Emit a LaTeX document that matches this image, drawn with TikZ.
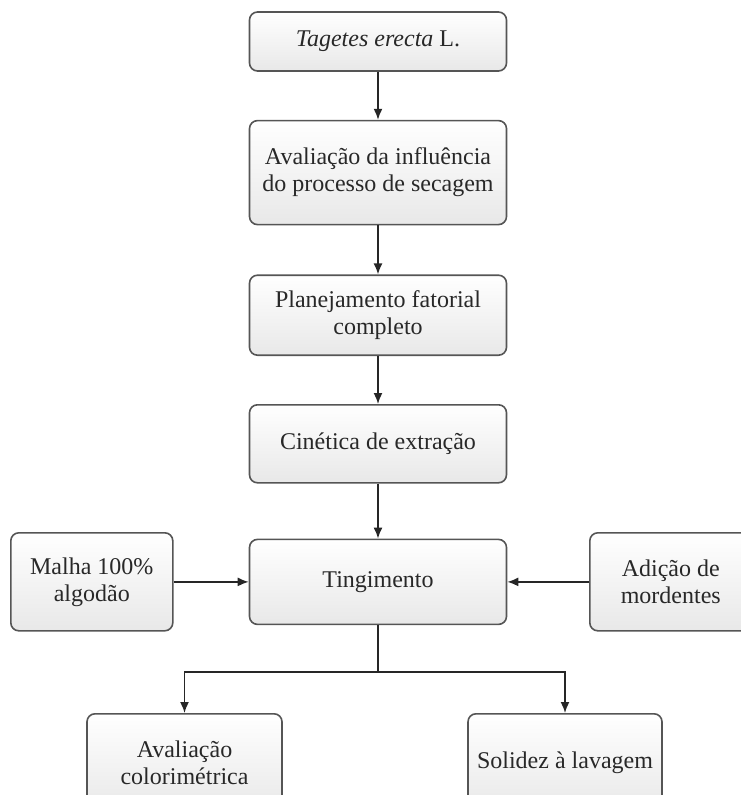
\documentclass[tikz,border=0pt]{standalone}
\usepackage{fontspec}
\setmainfont{Liberation Serif}
\usetikzlibrary{positioning,arrows.meta}
\definecolor{borda}{RGB}{85,85,85}
\definecolor{texto}{RGB}{40,40,40}
\definecolor{fundo}{RGB}{232,232,232}

\begin{document}
\begin{tikzpicture}[x=1pt, y=-1pt, node distance=48pt]
\tikzstyle{etapa} = [rectangle, rounded corners=8pt, minimum width=257pt, align=center, draw=borda, line width=1.6pt, top color=white, bottom color=fundo, text=texto, font=\fontsize{24}{27}\selectfont]
\tikzstyle{seta} = [line width=1.6pt, draw=black!85, -{Latex[length=11pt,width=9pt]}]

\useasboundingbox (0,0) rectangle (741,795);
\clip (0,0) rectangle (741,795);

\node (Tagetes) [etapa, minimum height=59pt] at (378,41.5) {\textit{Tagetes erecta} L.};
\node (Secagem) [etapa, minimum height=104pt, below=48pt of Tagetes] {Avaliação da influência\\do processo de secagem};
\node (Planejamento) [etapa, minimum height=80pt, below=49pt of Secagem] {Planejamento fatorial\\completo};
\node (Cinetica) [etapa, minimum height=78pt, below=48pt of Planejamento] {Cinética de extração};
\node (Tingimento) [etapa, minimum height=85pt, below=55pt of Cinetica] {Tingimento};

\draw [seta] (Tagetes) -- (Secagem);
\draw [seta] (Secagem) -- (Planejamento);
\draw [seta] (Planejamento) -- (Cinetica);
\draw [seta] (Cinetica) -- (Tingimento);

% entradas laterais
\node (Malha) [etapa, minimum width=162pt, minimum height=98pt, anchor=north west] at (10,532) {Malha 100\%\\algodão};
\node (Mordentes) [etapa, minimum width=162pt, minimum height=98pt, anchor=north west] at (589,532) {Adição de\\mordentes};
\draw [seta] (Malha.east |- Tingimento.west) -- (Tingimento.west);
\draw [seta] (Mordentes.west |- Tingimento.east) -- (Tingimento.east);

% avaliacoes finais
\node (Colorimetrica) [etapa, minimum width=195pt, minimum height=98pt, anchor=north] at (184.5,713) {Avaliação\\colorimétrica};
\node (Solidez) [etapa, minimum width=194pt, minimum height=98pt, anchor=north] at (565,713) {Solidez à lavagem};
\coordinate [below=47pt of Tingimento.south] (Ramo);
\draw [line width=1.6pt, draw=black!85] (Tingimento.south) -- (Ramo);
\draw [seta] (Ramo) -| (Colorimetrica.north);
\draw [seta] (Ramo) -| (Solidez.north);
\end{tikzpicture}
\end{document}
